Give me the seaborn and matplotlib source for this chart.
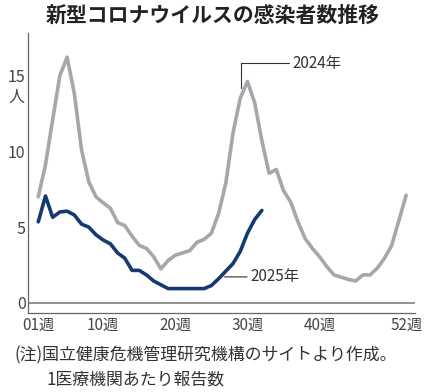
import numpy as np
import pandas as pd
import matplotlib
matplotlib.use("Agg")
import matplotlib.pyplot as plt
import matplotlib.transforms as mtransforms
import seaborn as sns

# weekly reports per medical institution
weeks = list(range(1, 53))
cases_2024 = [7.0, 9.1, 12.1, 15.0, 16.2, 13.8, 10.1, 8.0, 7.0, 6.6,
              6.25, 5.3, 5.1, 4.4, 3.8, 3.6, 3.05, 2.25, 2.8, 3.15,
              3.3, 3.45, 4.0, 4.2, 4.6, 5.9, 7.9, 11.2, 13.5, 14.6,
              13.2, 10.7, 8.55, 8.8, 7.4, 6.65, 5.35, 4.25, 3.6, 3.05,
              2.4, 1.85, 1.7, 1.55, 1.45, 1.85, 1.85, 2.3, 2.95, 3.8,
              5.45, 7.1]
cases_2025 = [5.35, 7.05, 5.65, 6.0, 6.05, 5.8, 5.2, 5.0, 4.5, 4.15,
              3.9, 3.3, 2.95, 2.15, 2.15, 1.85, 1.45, 1.2, 0.95, 0.95,
              0.95, 0.95, 0.95, 0.95, 1.15, 1.6, 2.1, 2.6, 3.4, 4.6,
              5.5, 6.1]
year_labels = ["2024年", "2025年"]
week_ticks = [1, 10, 20, 30, 40, 52]
week_ticklabels = ["01週", "10週", "20週", "30週", "40週", "52週"]
y_ticks = [0, 5, 10, 15]

sns.set_theme(style="white")
plt.rcParams["font.family"] = ["Noto Sans CJK JP", "DejaVu Sans"]

df = pd.concat([
    pd.DataFrame({"week": weeks, "cases": cases_2024, "year": year_labels[0]}),
    pd.DataFrame({"week": weeks[:len(cases_2025)], "cases": cases_2025, "year": year_labels[1]}),
])

fig = plt.figure(figsize=(4.25, 3.92), dpi=100)
ax = fig.add_axes([0.0666, 0.2015, 0.9094, 0.7145])

ax.axhline(0, color="#8a8a8a", lw=1.3, zorder=1)

palette = {year_labels[0]: "#a4a7ab", year_labels[1]: "#163a70"}
sns.lineplot(data=df, x="week", y="cases", hue="year", palette=palette,
             linewidth=2.6, legend=False, ax=ax, zorder=3)

ax.set_xlim(-0.38, 53.2)
ax.set_ylim(-0.66, 17.8)
ax.set_xlabel("")
ax.set_ylabel("")

ax.set_xticks(week_ticks)
ax.set_xticklabels(week_ticklabels)
ax.set_yticks(y_ticks)
ax.tick_params(axis="x", direction="in", length=3, width=0.8, colors="#666666",
               labelcolor="#444444", labelsize=11, pad=3)
ax.tick_params(axis="y", direction="in", length=3, width=0.8, colors="#666666",
               labelcolor="#444444", labelsize=11.5, pad=2)

for side in ["top", "right"]:
    ax.spines[side].set_visible(False)
for side in ["left", "bottom"]:
    ax.spines[side].set_color("#666666")
    ax.spines[side].set_linewidth(0.9)

# unit label under the top tick
trans = mtransforms.blended_transform_factory(ax.transAxes, ax.transData)
ax.text(-0.011, 13.55, "人", transform=trans, ha="right", va="center",
        fontsize=11.5, color="#444444")

# series labels with leader lines
ax.annotate(year_labels[0], xy=(29.05, 14.2), xytext=(36.2, 15.8),
            ha="left", va="center", fontsize=11, color="#333333",
            arrowprops=dict(arrowstyle="-", color="#333333", lw=0.8,
                            connectionstyle="angle,angleA=0,angleB=90,rad=0",
                            shrinkA=0, shrinkB=0, relpos=(0, 0.5)))
ax.annotate(year_labels[1], xy=(26.8, 1.72), xytext=(30.4, 1.72),
            ha="left", va="center", fontsize=11, color="#333333",
            arrowprops=dict(arrowstyle="-", color="#333333", lw=0.8,
                            shrinkA=0, shrinkB=0, relpos=(0, 0.5)))

fig.text(0.5, 0.962, "新型コロナウイルスの感染者数推移", ha="center", va="center",
         fontsize=15, fontweight="bold", color="#222222")
fig.text(0.033, 0.094, "(注)国立健康危機管理研究機構のサイトより作成。",
         ha="left", va="center", fontsize=12.2, color="#333333")
fig.text(0.11, 0.031, "1医療機関あたり報告数",
         ha="left", va="center", fontsize=12.2, color="#333333")

fig.savefig("out.png", dpi=100)
